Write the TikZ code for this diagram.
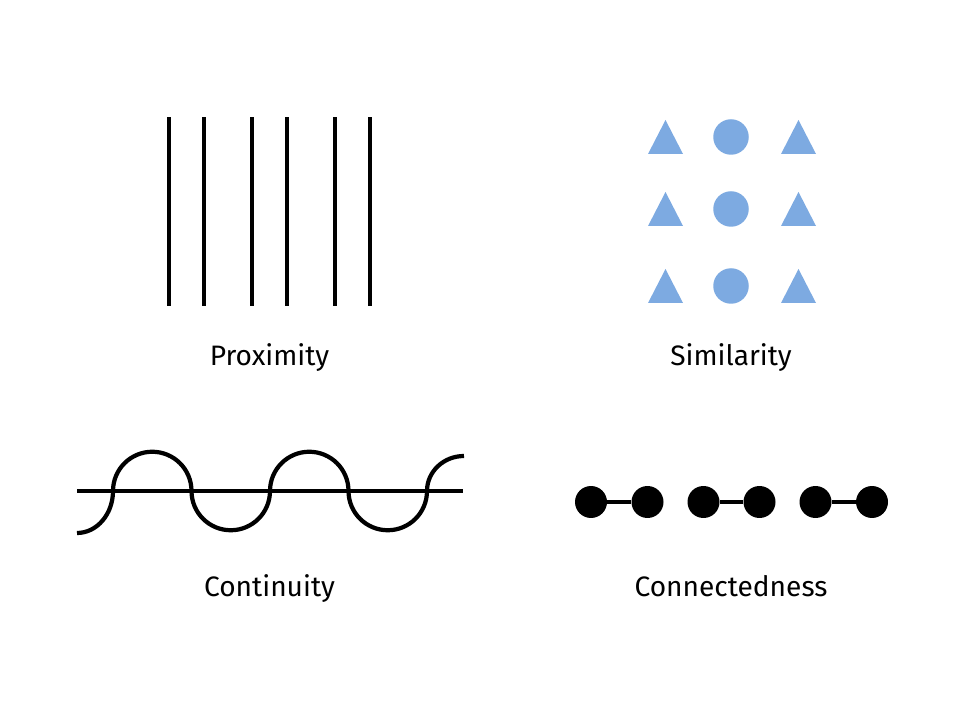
\documentclass[tikz,border=0pt]{standalone}
\usepackage{fontspec}
\setmainfont{Fira Sans}
\usepackage{xcolor}
\usepackage{tikz}
\usetikzlibrary{positioning, calc}
\definecolor{shapeBlue}{RGB}{125, 170, 225}
\definecolor{inkBlack}{RGB}{0, 0, 0}
\tikzset{
  gline/.style={
    line width=2.2pt, color=inkBlack
  },
  label/.style={
    anchor=base, inner sep=0pt,
    font=\fontsize{16}{19}\selectfont, text=inkBlack
  },
  dot/.style={
    circle, fill=inkBlack, draw=none,
    minimum size=0.64cm, inner sep=0pt
  },
  link/.style={
    line width=2.1pt, color=inkBlack
  },
  blob/.style={
    circle, fill=shapeBlue, draw=none,
    minimum size=0.71cm, inner sep=0pt
  },
  tri/.style={
    fill=shapeBlue
  }
}

\begin{document}
\begin{tikzpicture}[x=0.02cm, y=0.02cm]
  \useasboundingbox (0,0) rectangle (960,720);

  % proximity
  \draw[gline] (169,414) -- (169,603);
  \draw[gline] (204,414) -- (204,603);
  \draw[gline] (252,414) -- (252,603);
  \draw[gline] (287,414) -- (287,603);
  \draw[gline] (335,414) -- (335,603);
  \draw[gline] (370,414) -- (370,603);
  \node[label] (prox) at (269.5,354) {Proximity};

  % similarity
  \foreach \r/\y in {1/583, 2/511, 3/434} {
    \fill[tri] (648,\y-17) -- (683,\y-17) -- (665.5,\y+17) -- cycle;
    \fill[tri] (781,\y-17) -- (816,\y-17) -- (798.5,\y+17) -- cycle;
    \node[blob] (c\r) at (731,\y) {};
  }
  \node[label] (sim) at (731,354) {Similarity};

  % continuity
  \coordinate (ls) at (77,229);
  \coordinate (le) at (463,229);
  \draw[gline] (ls) -- (le);
  \draw[gline, line width=2.4pt] (77,187) arc[start angle=270, end angle=360, x radius=36, y radius=42]
    arc[start angle=180, end angle=0, radius=39.25]
    arc[start angle=180, end angle=360, radius=39.25]
    arc[start angle=180, end angle=0, radius=39.25]
    arc[start angle=180, end angle=360, radius=39.25]
    arc[start angle=180, end angle=90, x radius=37, y radius=35];
  \node[label] (cont) at (269.5,123) {Continuity};

  % connectedness
  \node[dot] (d1) at (591,218) {};
  \node[dot] (d2) at (647.5,218) {};
  \node[dot] (d3) at (703.5,218) {};
  \node[dot] (d4) at (759.5,218) {};
  \node[dot] (d5) at (815.5,218) {};
  \node[dot] (d6) at (872,218) {};
  \draw[link] (d1) -- (d2);
  \draw[link] (d3) -- (d4);
  \draw[link] (d5) -- (d6);
  \node[label] (conn) at (731,123) {Connectedness};
\end{tikzpicture}
\end{document}
